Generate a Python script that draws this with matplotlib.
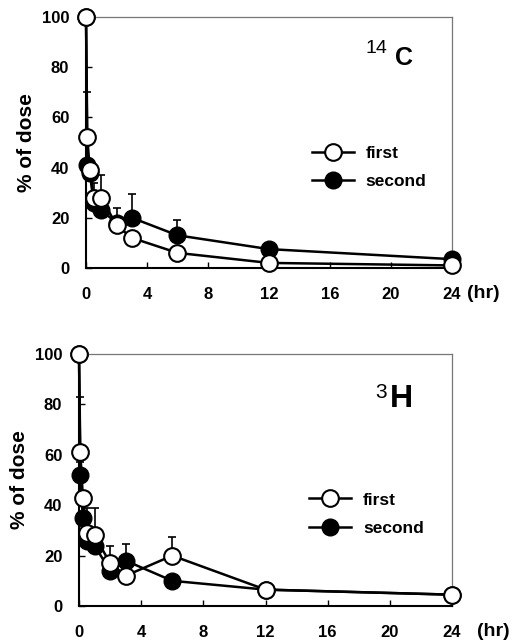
import numpy as np
import matplotlib
matplotlib.use("Agg")
import matplotlib.pyplot as plt

plt.rcParams['font.family'] = ['Liberation Sans', 'DejaVu Sans']

# sampling times (hr)
t = [0, 0.083, 0.25, 0.5, 1, 2, 3, 6, 12, 24]

# 14C panel
c_first = [100, 52, 39, 28, 28, 17, 12, 6, 2, 1]
c_second = [100, 41, 38, 26, 23, 18, 20, 13, 7.5, 3.5]
c_first_err = [np.nan, 18, np.nan, 6, 9, 7, np.nan, np.nan, np.nan, np.nan]
c_second_err = [np.nan, 8, np.nan, np.nan, np.nan, np.nan, 9.5, 6, np.nan, np.nan]

# 3H panel
h_first = [100, 61, 43, 29, 28, 17, 12, 20, 6.5, 4.5]
h_second = [100, 52, 35, 26, 24, 14, 18, 10, 6.5, 4.5]
h_first_err = [np.nan, 22, np.nan, np.nan, 11, 7, np.nan, 7.5, np.nan, np.nan]
h_second_err = [np.nan, 5, np.nan, 13, np.nan, np.nan, 6.5, np.nan, np.nan, np.nan]

xticks = [0, 4, 8, 12, 16, 20, 24]
yticks = [0, 20, 40, 60, 80, 100]


def panel(ax, first, second, ferr, serr, iso, sup, lab_pos, lab_size, hr_x, leg_y):
    for y, err in [(second, serr), (first, ferr)]:
        e = np.nan_to_num(np.array(err, dtype=float))
        ax.errorbar(t, y, yerr=[np.zeros(len(e)), e], fmt='none', ecolor='black',
                    elinewidth=1.2, capsize=3, capthick=1.2, zorder=2, clip_on=False)
    ax.plot(t, second, '-o', color='black', mfc='black', mec='black', ms=12,
            lw=1.8, zorder=3, clip_on=False, label='second')
    ax.plot(t, first, '-o', color='black', mfc='white', mec='black', ms=12,
            mew=1.5, lw=1.8, zorder=4, clip_on=False, label='first')

    ax.set_xlim(0, 24)
    ax.set_ylim(0, 100)
    ax.set_xticks(xticks)
    ax.set_yticks(yticks)
    ax.set_xticklabels([str(v) for v in xticks], fontweight='bold', fontsize=12)
    ax.set_yticklabels([str(v) for v in yticks], fontweight='bold', fontsize=12)
    ax.tick_params(direction='in', length=4, width=1, pad=12)
    ax.tick_params(axis='x', pad=14)
    for s in ['left', 'bottom']:
        ax.spines[s].set_linewidth(1.5)
    for s in ['top', 'right']:
        ax.spines[s].set_linewidth(0.9)
        ax.spines[s].set_color('#777777')
    ax.set_ylabel('% of dose', fontsize=15, fontweight='bold', labelpad=4)
    ax.text(hr_x, -0.1, '(hr)', transform=ax.transAxes, fontsize=14,
            fontweight='bold', va='center', ha='left')
    # isotope label: big letter with superscript mass number
    (bx, by), (sx, sy) = lab_pos
    ax.text(bx, by, iso, transform=ax.transAxes, fontsize=lab_size[0],
            fontweight='bold', ha='right', va='center')
    ax.text(sx, sy, sup, transform=ax.transAxes, fontsize=lab_size[1],
            ha='right', va='center')
    h, l = ax.get_legend_handles_labels()
    ax.legend(h[::-1], l[::-1], loc='center left', bbox_to_anchor=(0.575, leg_y),
              frameon=False, handlelength=2.4, handletextpad=0.7,
              prop={'weight': 'bold', 'size': 12.5}, labelspacing=0.75)


fig = plt.figure(figsize=(5.16, 6.41), dpi=100)
ax1 = fig.add_axes([0.1667, 0.582, 0.709, 0.3916])
ax2 = fig.add_axes([0.1531, 0.0546, 0.7229, 0.393])

panel(ax1, c_first, c_second, c_first_err, c_second_err, 'C', '14',
      ((0.893, 0.835), (0.825, 0.875)), (18, 14), 1.041, 0.40)
panel(ax2, h_first, h_second, h_first_err, h_second_err, 'H', '3',
      ((0.895, 0.822), (0.826, 0.846)), (23, 15), 1.067, 0.365)

plt.savefig('out.png', dpi=100)
